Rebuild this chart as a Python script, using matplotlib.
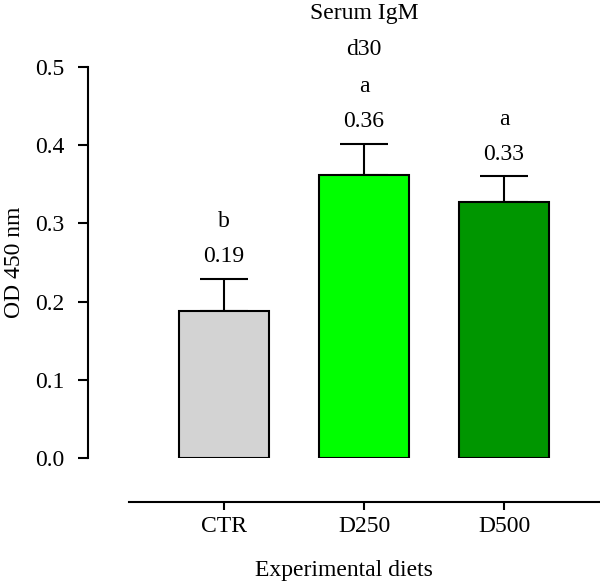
import numpy as np
import matplotlib.pyplot as plt

diets = ['CTR', 'D250', 'D500']
means = [0.188, 0.362, 0.328]
errs = [0.041, 0.040, 0.032]
value_labels = ['0.19', '0.36', '0.33']
letters = ['b', 'a', 'a']
colors = ['#d3d3d3', '#00ff00', '#009600']

plt.rcParams['font.family'] = ['Liberation Serif', 'DejaVu Serif']
plt.rcParams['font.size'] = 17

fig = plt.figure(figsize=(6, 5.83), dpi=100)
W, H = 600, 583
# axes placed in pixel terms: left 88, right 600, y=0 at 458, y=0.5 at 67
ax = fig.add_axes([88 / W, (H - 458) / H, (600 - 88) / W, (458 - 67) / H])

x = np.arange(len(diets))
ax.bar(x, means, width=0.643, color=colors, edgecolor='black', linewidth=1.5, zorder=2)
ax.errorbar(x, means, yerr=[np.zeros(len(errs)), errs], fmt='none', ecolor='black',
            elinewidth=1.5, capsize=17, capthick=1.5, zorder=1)

for i in range(len(diets)):
    top = means[i] + errs[i]
    ax.annotate(value_labels[i], (x[i], top), xytext=(0, 16), textcoords='offset points',
                ha='center', va='center')
    ax.annotate(letters[i], (x[i], top), xytext=(0, 41), textcoords='offset points',
                ha='center', va='center')
ax.annotate('d30', (x[1], means[1] + errs[1]), xytext=(0, 68), textcoords='offset points',
            ha='center', va='center')

ax.set_ylim(0, 0.5)
ax.set_xlim((88 - 224) / 140, (600 - 224) / 140)
ax.set_yticks([0.0, 0.1, 0.2, 0.3, 0.4, 0.5])
ax.set_yticklabels(['0.0', '0.1', '0.2', '0.3', '0.4', '0.5'])
ax.set_xticks(x)
ax.set_xticklabels(diets)

ax.spines['top'].set_visible(False)
ax.spines['right'].set_visible(False)
ax.spines['left'].set_linewidth(1.5)
ax.spines['bottom'].set_linewidth(1.5)
ax.spines['bottom'].set_position(('outward', 32))
ax.spines['bottom'].set_bounds((129 - 224) / 140, (600 - 224) / 140)
ax.tick_params(axis='y', length=7, width=1.5, pad=10)
ax.tick_params(axis='x', length=6, width=1.5, pad=4)

ax.set_ylabel('OD 450 nm', labelpad=7)
ax.set_xlabel('Experimental diets', labelpad=16)
fig.text(364 / W, 1 - 13 / H, 'Serum IgM', ha='center', va='center')

fig.savefig('out.png', dpi=100)
